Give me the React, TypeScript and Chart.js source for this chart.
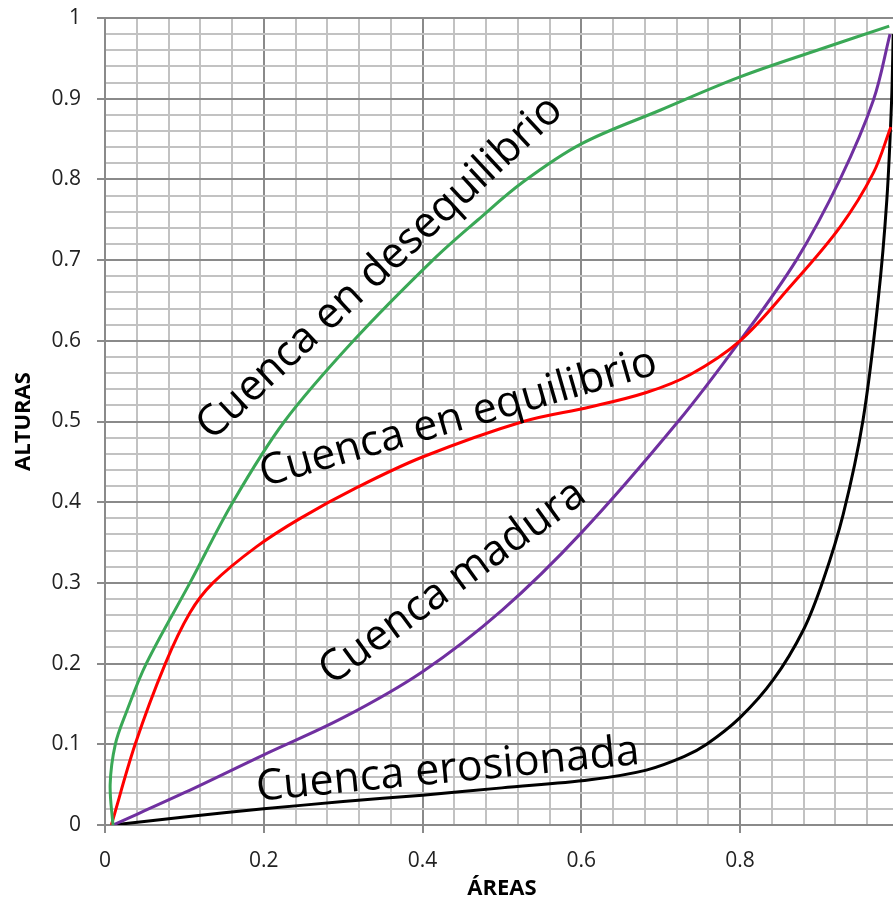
import { useEffect, useRef } from 'react';
import { Chart, registerables } from 'chart.js';

Chart.register(...registerables);

// ---- data ----
const desequilibrioX = [0.01, 0.0065, 0.013, 0.027, 0.052, 0.107, 0.161, 0.226, 0.313, 0.413, 0.47, 0.527, 0.6, 0.7, 0.8, 0.9, 0.988];
const desequilibrioY = [0, 0.05, 0.1, 0.14, 0.2, 0.3, 0.4, 0.5, 0.6, 0.7, 0.75, 0.797, 0.844, 0.886, 0.927, 0.961, 0.99];

const equilibrioX = [0.008, 0.038, 0.076, 0.107, 0.136, 0.191, 0.246, 0.317, 0.4, 0.527, 0.611, 0.682, 0.737, 0.8, 0.863, 0.926, 0.968, 0.99];
const equilibrioY = [0, 0.1, 0.2, 0.263, 0.3, 0.345, 0.38, 0.418, 0.456, 0.5, 0.518, 0.536, 0.558, 0.6, 0.667, 0.741, 0.808, 0.865];

const maduraX = [0.01, 0.1, 0.2, 0.3, 0.4, 0.5, 0.6, 0.722, 0.8, 0.871, 0.926, 0.968, 0.989];
const maduraY = [0, 0.04, 0.087, 0.133, 0.19, 0.266, 0.362, 0.5, 0.6, 0.7, 0.8, 0.898, 0.98];

const erosionadaX = [0.01, 0.1, 0.2, 0.3, 0.4, 0.5, 0.611, 0.682, 0.73, 0.758, 0.8, 0.842, 0.88, 0.905, 0.93, 0.955, 0.974, 0.985, 0.991, 0.993];
const erosionadaY = [0, 0.01, 0.02, 0.029, 0.037, 0.046, 0.056, 0.068, 0.085, 0.1, 0.133, 0.18, 0.242, 0.304, 0.385, 0.502, 0.65, 0.775, 0.898, 0.98];

const seriesNames = ['Cuenca en desequilibrio', 'Cuenca en equilibrio', 'Cuenca madura', 'Cuenca erosionada'];
const seriesColors = ['#3aa856', '#ff0000', '#7030a0', '#000000'];

// curve labels (anchored in data units)
const labelTexts = ['Cuenca en desequilibrio', 'Cuenca en equilibrio', 'Cuenca madura', 'Cuenca erosionada'];
const labelX = [0.3465, 0.445, 0.438, 0.432];
const labelY = [0.69, 0.504, 0.3, 0.068];
const labelAngles = [43, 16, 36, 5.5];

const xTitle = 'ÁREAS';
const yTitle = 'ALTURAS';

const MAJOR = '#8a8a8a';
const MINOR = '#c2c2c2';
const FONT = '"Open Sans", "DejaVu Sans", sans-serif';

const isMult = (v: number, step: number) => Math.abs(Math.round(v / step) * step - v) < 1e-6;
const fmt = (v: number) => {
  const r = Math.round(v * 10) / 10;
  return r === 0 ? '0' : r === 1 ? '1' : r.toFixed(1);
};

const toPoints = (xs: number[], ys: number[]) => xs.map((x, i) => ({ x, y: ys[i] }));

const curveLabelsPlugin = {
  id: 'curveLabels',
  afterDatasetsDraw(chart: any) {
    const { ctx, scales } = chart;
    const xs = scales.x;
    const ys = scales.y;
    ctx.save();
    ctx.font = `43px ${FONT}`;
    ctx.fillStyle = '#000';
    ctx.textAlign = 'center';
    ctx.textBaseline = 'middle';
    labelTexts.forEach((t, i) => {
      ctx.save();
      ctx.translate(xs.getPixelForValue(labelX[i]), ys.getPixelForValue(labelY[i]));
      ctx.rotate((-labelAngles[i] * Math.PI) / 180);
      ctx.fillText(t, 0, 0);
      ctx.restore();
    });
    ctx.restore();
  },
};

export default function App() {
  const ref = useRef<HTMLCanvasElement | null>(null);

  useEffect(() => {
    if (!ref.current) return;
    const series = [
      toPoints(desequilibrioX, desequilibrioY),
      toPoints(equilibrioX, equilibrioY),
      toPoints(maduraX, maduraY),
      toPoints(erosionadaX, erosionadaY),
    ];
    const datasets = series.map((data, i) => ({
      label: seriesNames[i],
      data,
      borderColor: seriesColors[i],
      backgroundColor: seriesColors[i],
      borderWidth: 3,
      pointRadius: 0,
      pointHoverRadius: 0,
      tension: 0.35,
      fill: false,
    }));

    const chart = new Chart(ref.current, {
      type: 'line',
      data: { datasets },
      plugins: [curveLabelsPlugin],
      options: {
        responsive: false,
        animation: false,
        events: [],
        layout: { padding: { top: 18, right: 6.25, left: 0, bottom: 0 } },
        plugins: { legend: { display: false }, tooltip: { enabled: false } },
        scales: {
          x: {
            type: 'linear',
            min: 0,
            max: 1,
            afterFit: (s: any) => {
              s.height = 87;
              s.paddingLeft = 0;
              s.paddingRight = 0;
            },
            ticks: {
              stepSize: 0.04,
              maxTicksLimit: 100,
              autoSkip: false,
              maxRotation: 0,
              minRotation: 0,
              padding: 15,
              color: '#222',
              font: { family: FONT, size: 21 },
              callback: (v: any) => {
                const n = Number(v);
                if (!isMult(n, 0.2) || n > 0.99) return '';
                return fmt(n);
              },
            },
            grid: {
              color: (c: any) => (c.tick && isMult(c.tick.value, 0.2) ? MAJOR : MINOR),
              lineWidth: 2,
              tickColor: (c: any) => (c.tick && isMult(c.tick.value, 0.2) ? MAJOR : 'rgba(0,0,0,0)'),
              tickLength: 8,
              tickWidth: 2,
            },
            border: { color: MAJOR, width: 2 },
            title: {
              display: true,
              text: xTitle,
              color: '#000',
              font: { family: FONT, size: 22, weight: 'bold' },
              padding: { top: 0, bottom: 10 },
            },
          },
          y: {
            type: 'linear',
            min: 0,
            max: 1,
            afterFit: (s: any) => {
              s.width = 105;
              s.paddingTop = 0;
              s.paddingBottom = 0;
            },
            ticks: {
              stepSize: 0.02,
              maxTicksLimit: 100,
              autoSkip: false,
              padding: 16,
              color: '#222',
              font: { family: FONT, size: 21 },
              callback: (v: any) => {
                const n = Number(v);
                if (!isMult(n, 0.1)) return '';
                return fmt(n);
              },
            },
            grid: {
              color: (c: any) => (c.tick && isMult(c.tick.value, 0.1) ? MAJOR : MINOR),
              lineWidth: 2,
              tickColor: (c: any) => (c.tick && isMult(c.tick.value, 0.1) ? MAJOR : 'rgba(0,0,0,0)'),
              tickLength: 8,
              tickWidth: 2,
            },
            border: { color: MAJOR, width: 2 },
            title: {
              display: true,
              text: yTitle,
              color: '#000',
              font: { family: FONT, size: 22, weight: 'bold' },
              padding: { top: 11, bottom: 0 },
            },
          },
        },
      },
    } as any);
    return () => chart.destroy();
  }, []);

  return (
    <div style={{ position: 'fixed', left: 0, top: 0, width: 893, height: 912, overflow: 'hidden', background: '#fff' }}>
      <canvas ref={ref} width={905} height={912} style={{ width: 905, height: 912, display: 'block' }} />
    </div>
  );
}
